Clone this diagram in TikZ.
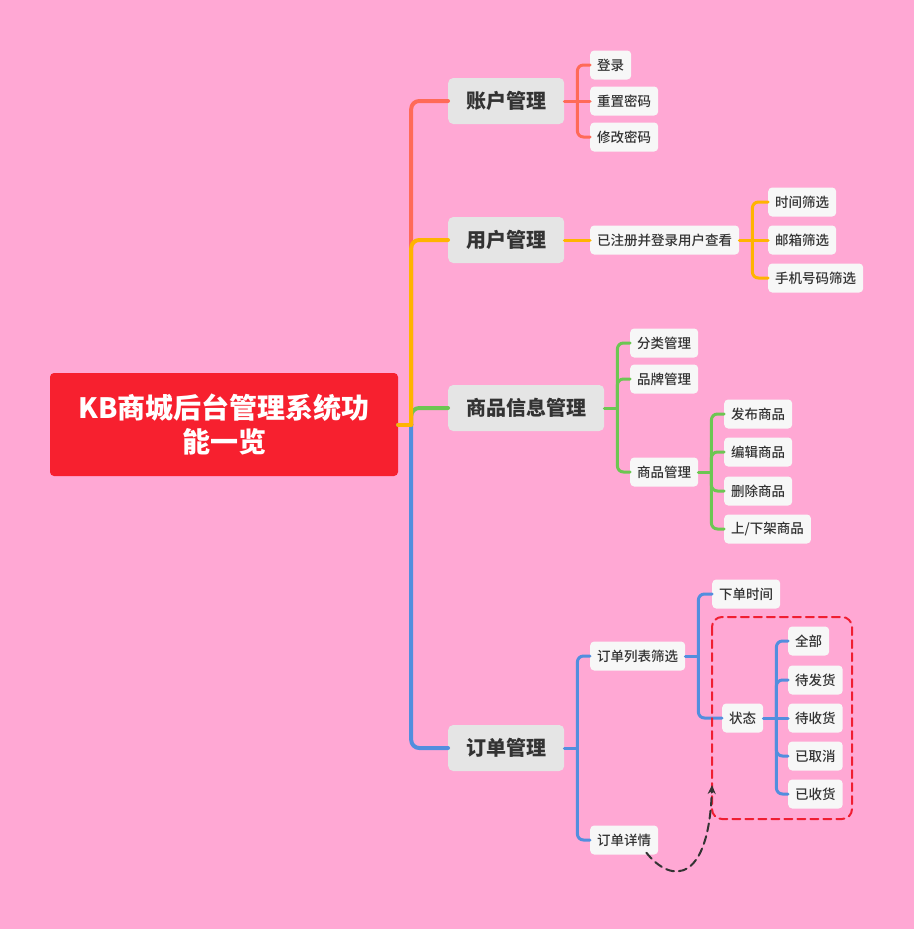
\documentclass[tikz,border=0pt]{standalone}
\usepackage{fontspec}
\setmainfont{Noto Sans CJK SC}
\newfontfamily\medfont{Noto Sans CJK SC Medium}
\usetikzlibrary{arrows.meta}

\definecolor{bgpink}{RGB}{255,168,212}
\definecolor{rootred}{RGB}{247,32,47}
\definecolor{acctcol}{RGB}{255,106,88}
\definecolor{usercol}{RGB}{255,180,0}
\definecolor{goodscol}{RGB}{108,198,82}
\definecolor{ordercol}{RGB}{82,142,222}
\definecolor{txtgray}{RGB}{51,51,51}
\definecolor{boxred}{RGB}{240,30,50}

\begin{document}
\begin{tikzpicture}[x=1pt,y=-1pt,line cap=round,line join=round,
  root/.style={fill=rootred,rounded corners=4pt,text=white,font=\fontsize{28}{34}\selectfont\bfseries,
    minimum width=348pt,minimum height=103pt,align=center,inner sep=0pt},
  topic/.style={fill=black!10,rounded corners=5pt,text=txtgray,font=\fontsize{20}{24}\selectfont\bfseries,
    minimum height=46pt,inner xsep=18pt,inner ysep=0pt,anchor=west},
  leaf/.style={fill=black!3,rounded corners=4pt,text=txtgray,font=\fontsize{13.5}{16}\selectfont\medfont,
    minimum height=29pt,inner xsep=7pt,inner ysep=0pt,anchor=west},
  trunk/.style={line width=4pt},
  twig/.style={line width=3pt}]
  \fill[bgpink] (0,0) rectangle (914,929);
  \useasboundingbox (0,0) rectangle (914,929);

  % Centre and first level
  \node[root] (sys) at (224,424.5) {KB商城后台管理系统功\\能一览};
  \node[topic] (acct) at (448,101) {账户管理};
  \node[topic] (user) at (448,240) {用户管理};
  \node[topic] (goods) at (448,408) {商品信息管理};
  \node[topic] (order) at (448,748) {订单管理};
  \coordinate (sysj) at ([xshift=13pt]sys.east);
  \foreach \c/\col in {acct/acctcol,order/ordercol,goods/goodscol,user/usercol} {
    \draw[trunk,\col] (sys.east) -- (sysj);
    \draw[trunk,\col,rounded corners=8pt] (sysj) |- (\c.west);
  }

  % Account branch
  \node[leaf] (login) at (590,65) {登录};
  \node[leaf] (resetpw) at (590,101) {重置密码};
  \node[leaf] (changepw) at (590,137) {修改密码};
  \coordinate (acctj) at ([xshift=13pt]acct.east);
  \draw[twig,acctcol] (acct.east) -- (acctj);
  \foreach \c in {login,changepw}
    \draw[twig,acctcol,rounded corners=6pt] (acctj) |- (\c.west);
  \draw[twig,acctcol] (acctj) -- (resetpw.west);

  % User branch
  \node[leaf] (regview) at (590,240) {已注册并登录用户查看};
  \node[leaf] (bytime) at (768,202) {时间筛选};
  \node[leaf] (bymail) at (768,240) {邮箱筛选};
  \node[leaf] (byphone) at (768,278) {手机号码筛选};
  \draw[twig,usercol] (user.east) -- (regview.west);
  \coordinate (regj) at ([xshift=13pt]regview.east);
  \draw[twig,usercol] (regview.east) -- (bymail.west);
  \foreach \c in {bytime,byphone}
    \draw[twig,usercol,rounded corners=6pt] (regj) |- (\c.west);

  % Goods branch
  \node[leaf] (catmgr) at (630,343) {分类管理};
  \node[leaf] (brandmgr) at (630,379) {品牌管理};
  \node[leaf] (itemmgr) at (630,472) {商品管理};
  \node[leaf] (publish) at (724,414) {发布商品};
  \node[leaf] (edit) at (724,452) {编辑商品};
  \node[leaf] (remove) at (724,491) {删除商品};
  \node[leaf] (shelf) at (724,529) {上/下架商品};
  \coordinate (goodsj) at ([xshift=13pt]goods.east);
  \draw[twig,goodscol] (goods.east) -- (goodsj);
  \foreach \c in {catmgr,brandmgr,itemmgr}
    \draw[twig,goodscol,rounded corners=6pt] (goodsj) |- (\c.west);
  \coordinate (itemj) at ([xshift=13pt]itemmgr.east);
  \draw[twig,goodscol] (itemmgr.east) -- (itemj);
  \foreach \c in {publish,edit,remove,shelf}
    \draw[twig,goodscol,rounded corners=6pt] (itemj) |- (\c.west);

  % Order branch
  \node[leaf] (listfilter) at (590,656) {订单列表筛选};
  \node[leaf] (details) at (590,840) {订单详情};
  \node[leaf] (ordertime) at (712,594) {下单时间};
  \node[leaf] (state) at (722,718) {状态};
  \node[leaf] (all) at (788,641) {全部};
  \node[leaf] (toship) at (788,680) {待发货};
  \node[leaf] (torecv) at (788,718) {待收货};
  \node[leaf] (cancelled) at (788,756) {已取消};
  \node[leaf] (received) at (788,794) {已收货};
  \coordinate (orderj) at ([xshift=13pt]order.east);
  \draw[twig,ordercol] (order.east) -- (orderj);
  \foreach \c in {listfilter,details}
    \draw[twig,ordercol,rounded corners=6pt] (orderj) |- (\c.west);
  \coordinate (listj) at ([xshift=13pt]listfilter.east);
  \draw[twig,ordercol] (listfilter.east) -- (listj);
  \foreach \c in {ordertime,state}
    \draw[twig,ordercol,rounded corners=6pt] (listj) |- (\c.west);
  \coordinate (statej) at ([xshift=13pt]state.east);
  \draw[twig,ordercol] (state.east) -- (torecv.west);
  \foreach \c in {all,toship,cancelled,received}
    \draw[twig,ordercol,rounded corners=6pt] (statej) |- (\c.west);

  % Status group and link
  \draw[boxred,line width=2pt,dash pattern=on 8pt off 5pt,rounded corners=10pt]
    (712,617) rectangle (852,819);
  \coordinate (tip) at (712,785);
  \draw[txtgray,line width=2pt,dash pattern=on 8pt off 5pt,-{Stealth[length=9pt,width=8pt]}]
    ([xshift=-12pt,yshift=2pt]details.south east) .. controls (672,885) and (709,882) .. (tip);
\end{tikzpicture}
\end{document}
